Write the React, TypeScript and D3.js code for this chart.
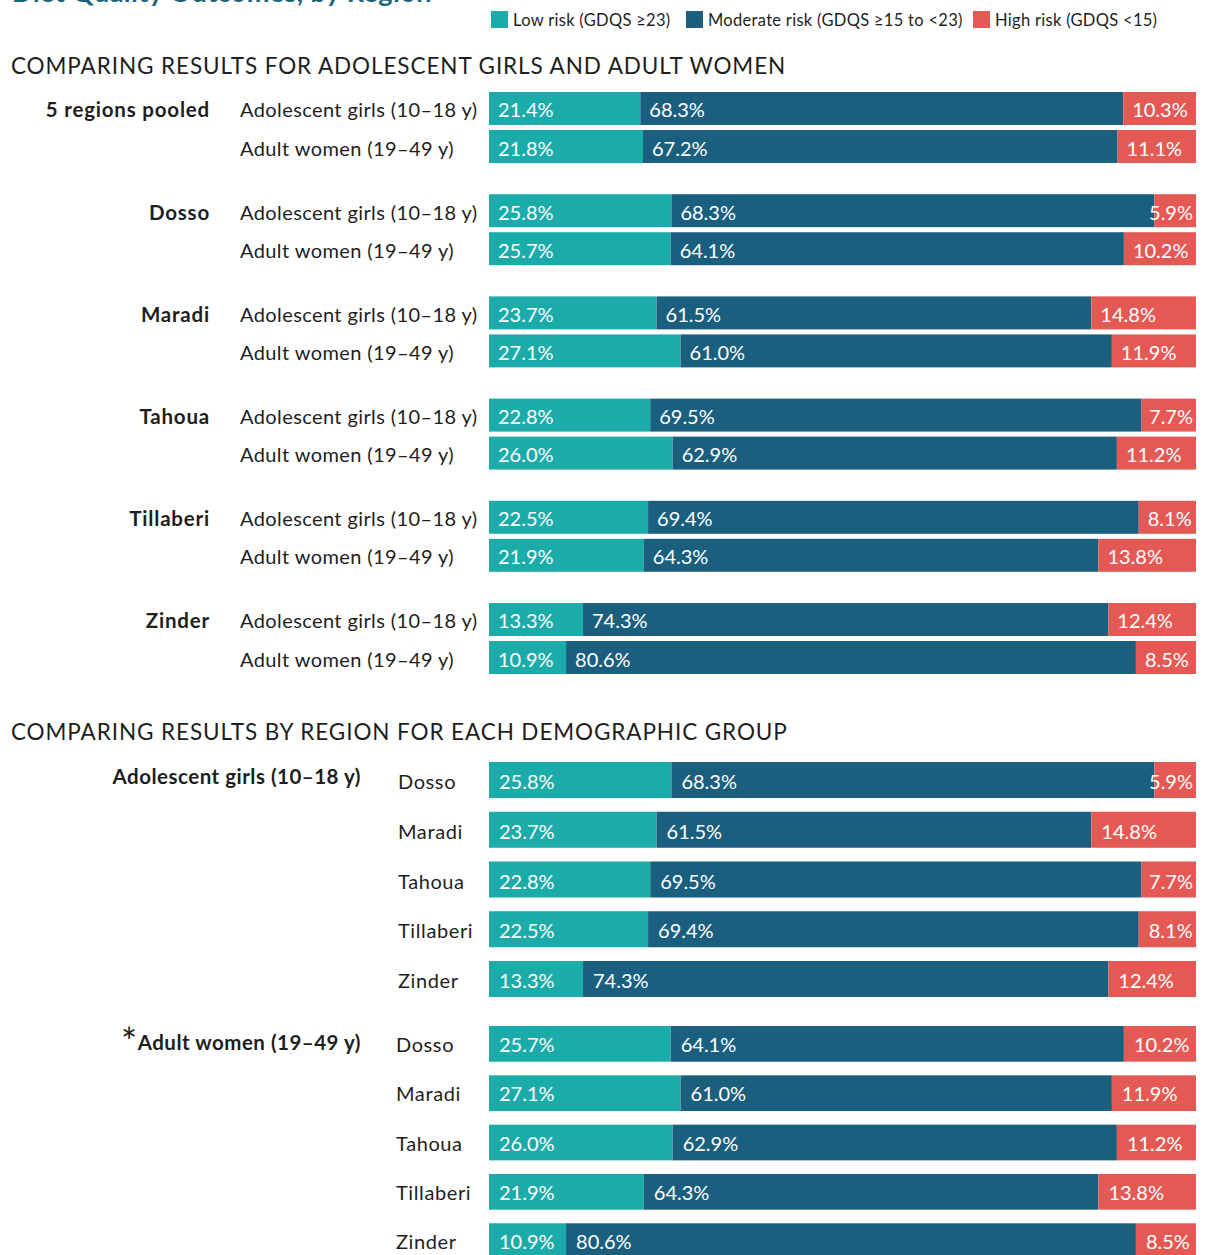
import React from "react";
import * as d3 from "d3";

const regions = ["Dosso", "Maradi", "Tahoua", "Tillaberi", "Zinder"];
const topGroups = ["5 regions pooled", ...regions];
const demoLabels = ["Adolescent girls (10–18 y)", "Adult women (19–49 y)"];
const riskKeys = ["low", "moderate", "high"];
const riskLabels = ["Low risk (GDQS ≥23)", "Moderate risk (GDQS ≥15 to <23)", "High risk (GDQS <15)"];
const riskColors = ["#1bacaa", "#1b5f7e", "#e55955"];

// index 0 = 5 regions pooled, then Dosso, Maradi, Tahoua, Tillaberi, Zinder
const girlsLow = [21.4, 25.8, 23.7, 22.8, 22.5, 13.3];
const girlsModerate = [68.3, 68.3, 61.5, 69.5, 69.4, 74.3];
const girlsHigh = [10.3, 5.9, 14.8, 7.7, 8.1, 12.4];
const womenLow = [21.8, 25.7, 27.1, 26.0, 21.9, 10.9];
const womenModerate = [67.2, 64.1, 61.0, 62.9, 64.3, 80.6];
const womenHigh = [11.1, 10.2, 11.9, 11.2, 13.8, 8.5];

type Row = { low: number; moderate: number; high: number };
const toRows = (lo: number[], mo: number[], hi: number[]): Row[] =>
  lo.map((v, i) => ({ low: v, moderate: mo[i], high: hi[i] }));
const girlsRows = toRows(girlsLow, girlsModerate, girlsHigh);
const womenRows = toRows(womenLow, womenModerate, womenHigh);

const FONT = "Lato, 'Open Sans', sans-serif";
const TEXT = "#1e1e1e";
const LS = 0.4;

const x = d3.scaleLinear().domain([0, 1]).range([489, 1196]);
const stacker = d3.stack<Row>().keys(riskKeys).offset(d3.stackOffsetExpand);

function StackBar({ row, y, h, pad, dy }: { row: Row; y: number; h: number; pad: number; dy: number }) {
  const series = stacker([row]);
  return (
    <g>
      {series.map((s, k) => {
        const [a, b] = s[0];
        const x0 = x(a);
        const x1 = x(b);
        const val = row[riskKeys[k] as keyof Row];
        const label = val.toFixed(1) + "%";
        const narrow = k === 2 && x1 - x0 < 56;
        return (
          <g key={k}>
            <rect x={x0} y={y} width={x1 - x0} height={h} fill={riskColors[k]} />
            <text
              x={narrow ? x1 - 3 : x0 + pad}
              y={y + h / 2 + dy}
              textAnchor={narrow ? "end" : "start"}
              fill="#fff"
              fontSize={20}
              fontFamily={FONT}
            >
              {label}
            </text>
          </g>
        );
      })}
    </g>
  );
}

export default function App() {
  const yGroup = d3.scalePoint<string>().domain(topGroups).range([92, 603]);
  const yDemo = d3.scaleBand<number>().domain([0, 1]).range([0, 71]).paddingInner(0.132);
  const yGirls = d3.scaleBand<string>().domain(regions).range([762, 997]).paddingInner(0.276);
  const yWomen = d3.scaleBand<string>().domain(regions).range([1026, 1259]).paddingInner(0.276);

  const legendX = [491, 686, 973];

  return (
    <svg
      width={1205}
      height={1255}
      style={{ position: "absolute", left: 0, top: 0, background: "#fff" }}
    >
      <text x={12} y={2} fontSize={27} fontWeight={700} fill="#1a6378" fontFamily={FONT} letterSpacing={0.4}>
        Diet Quality Outcomes, by Region
      </text>

      {riskLabels.map((l, i) => (
        <g key={l}>
          <rect x={legendX[i]} y={11} width={17} height={17} fill={riskColors[i]} />
          <text x={legendX[i] + 22} y={26} fontSize={16.5} fill={TEXT} fontFamily={FONT} letterSpacing={0.3}>
            {l}
          </text>
        </g>
      ))}

      <text x={11} y={74} fontSize={22.5} fill={TEXT} fontFamily={FONT} letterSpacing={0.9}>
        COMPARING RESULTS FOR ADOLESCENT GIRLS AND ADULT WOMEN
      </text>

      {topGroups.map((g, i) => {
        const gy = yGroup(g)!;
        const rows = [girlsRows[i], womenRows[i]];
        return (
          <g key={g}>
            <text
              x={210}
              y={gy + yDemo.bandwidth() / 2 + 9}
              textAnchor="end"
              fontWeight={700}
              fontSize={20.5}
              fill={TEXT}
              fontFamily={FONT}
              letterSpacing={0.8}
            >
              {g}
            </text>
            {rows.map((r, j) => {
              const ry = gy + yDemo(j)!;
              return (
                <g key={j}>
                  <text
                    x={240}
                    y={ry + yDemo.bandwidth() / 2 + 9}
                    fontSize={20}
                    fill={TEXT}
                    fontFamily={FONT}
                    letterSpacing={LS}
                  >
                    {demoLabels[j]}
                  </text>
                  <StackBar row={r} y={ry} h={yDemo.bandwidth()} pad={9} dy={9} />
                </g>
              );
            })}
          </g>
        );
      })}

      <text x={11} y={740} fontSize={22.5} fill={TEXT} fontFamily={FONT} letterSpacing={0.9}>
        COMPARING RESULTS BY REGION FOR EACH DEMOGRAPHIC GROUP
      </text>

      <text x={361} y={784} textAnchor="end" fontWeight={700} fontSize={20.5} fill={TEXT} fontFamily={FONT} letterSpacing={0.5}>
        {demoLabels[0]}
      </text>
      {regions.map((r, i) => {
        const ry = yGirls(r)!;
        return (
          <g key={"g" + r}>
            <text x={398} y={ry + yGirls.bandwidth() / 2 + 9} fontSize={20} fill={TEXT} fontFamily={FONT} letterSpacing={0.6}>
              {r}
            </text>
            <StackBar row={girlsRows[i + 1]} y={ry} h={yGirls.bandwidth()} pad={10} dy={9} />
          </g>
        );
      })}

      <text x={361} y={1050} textAnchor="end" fontWeight={700} fontSize={20.5} fill={TEXT} fontFamily={FONT} letterSpacing={0.5}>
        <tspan fontSize={38} fontWeight={400} dy={6}>*</tspan>
        <tspan dy={-6}>{demoLabels[1]}</tspan>
      </text>
      {regions.map((r, i) => {
        const ry = yWomen(r)!;
        return (
          <g key={"w" + r}>
            <text x={396} y={ry + yWomen.bandwidth() / 2 + 8} fontSize={20} fill={TEXT} fontFamily={FONT} letterSpacing={0.6}>
              {r}
            </text>
            <StackBar row={womenRows[i + 1]} y={ry} h={yWomen.bandwidth()} pad={10} dy={8} />
          </g>
        );
      })}
    </svg>
  );
}
